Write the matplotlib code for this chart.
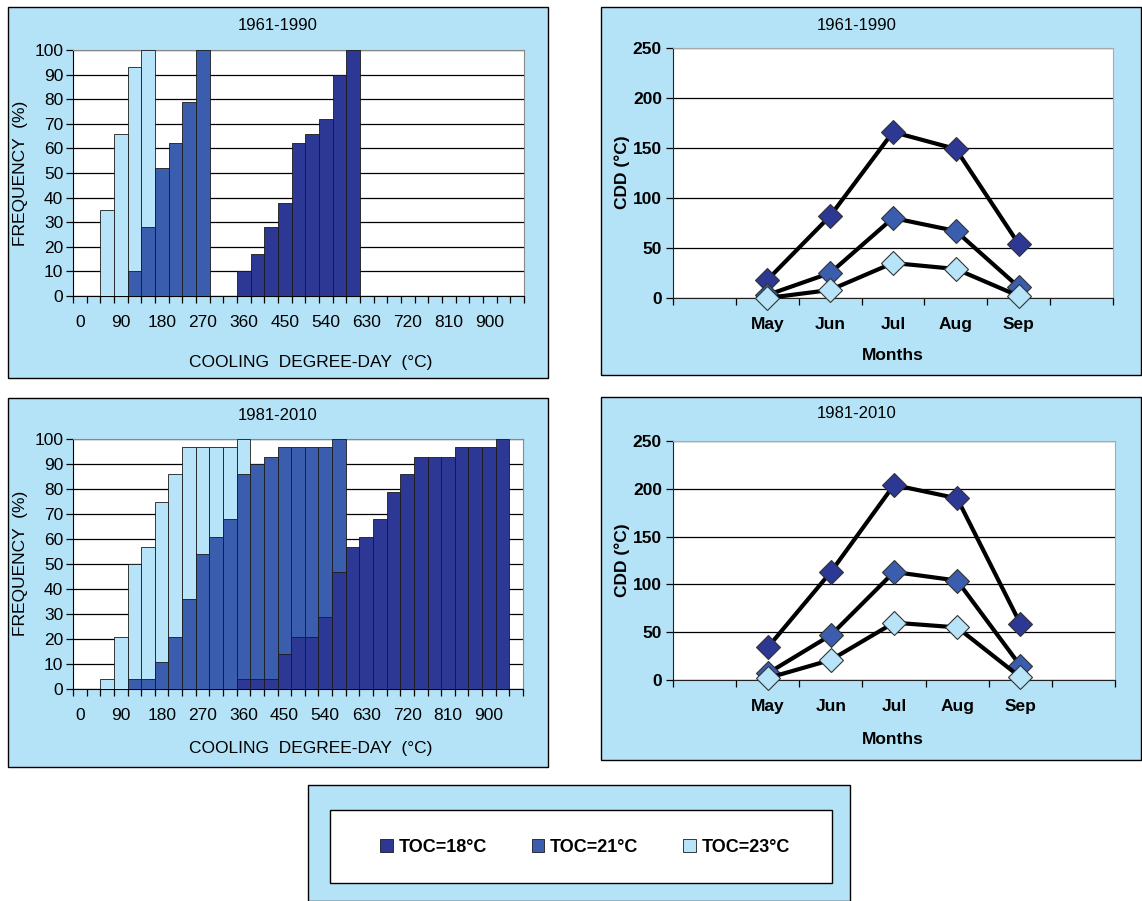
import numpy as np
import matplotlib
matplotlib.use('Agg')
import matplotlib.pyplot as plt
from matplotlib.patches import Rectangle

plt.rcParams['font.family'] = ['Liberation Sans', 'DejaVu Sans']

#histogram categories (cooling degree-day, bins of 30)
cdd_bins = [str(v) for v in range(0, 990, 30)]
cdd_labels = [b if i % 3 == 0 else '' for i, b in enumerate(cdd_bins)]

#cumulative frequency (%) per bin, None = no bar
freq_6190_18 = [None]*12 + [10, 17, 28, 38, 62, 66, 72, 90, 100] + [None]*12
freq_6190_21 = [None]*4 + [10, 28, 52, 62, 79, 100] + [None]*23
freq_6190_23 = [None]*2 + [35, 66, 93, 100] + [None]*27

freq_8110_18 = [None]*12 + [4, 4, 4, 14, 21, 21, 29, 47, 57, 61, 68, 79, 86, 93, 93, 93, 97, 97, 97, 100] + [None]
freq_8110_21 = [None]*4 + [4, 4, 11, 21, 36, 54, 61, 68, 86, 90, 93, 97, 97, 97, 97, 100] + [None]*13
freq_8110_23 = [None]*2 + [4, 21, 50, 57, 75, 86, 97, 97, 97, 97, 100] + [None]*20

#monthly CDD
months = ['', 'May', 'Jun', 'Jul', 'Aug', 'Sep', '']
cdd_6190_18 = [18, 82, 166, 149, 54]
cdd_6190_21 = [3, 25, 80, 67, 11]
cdd_6190_23 = [0, 8, 35, 29, 2]
cdd_8110_18 = [34, 113, 204, 190, 59]
cdd_8110_21 = [7, 47, 113, 104, 15]
cdd_8110_23 = [2, 21, 60, 55, 3]

series_names = ['TOC=18\u00b0C', 'TOC=21\u00b0C', 'TOC=23\u00b0C']
col_dark = '#2D3794'
col_mid = '#3A5DAD'
col_light = '#B7E4F8'
panel_bg = '#B4E3F7'

W, H = 1142, 901
fig = plt.figure(figsize=(W/100, H/100), dpi=100)


def rect(x0, y0, x1, y1):
    return [x0/W, 1 - y1/H, (x1-x0)/W, (y1-y0)/H]


def panel(x0, y0, x1, y1, fc=panel_bg):
    fig.patches.append(Rectangle((x0/W, 1 - y1/H), (x1-x0)/W, (y1-y0)/H,
                                 transform=fig.transFigure, facecolor=fc,
                                 edgecolor='black', linewidth=1, zorder=-5))


#background panels
panel(8, 7, 548, 378)
panel(8, 398, 548, 767)
panel(601, 7, 1141, 375)
panel(601, 397, 1141, 760)
panel(308, 785, 850, 901)
panel(330, 810, 832, 883, fc='white')


def histo(box, title, f18, f21, f23, title_y, xlab_y, ylab_y):
    ax = fig.add_axes(rect(*box))
    x = np.arange(len(cdd_bins))
    handles = []
    #light first so darker series stay in front
    for vals, c in [(f23, col_light), (f21, col_mid), (f18, col_dark)]:
        idx = [i for i, v in enumerate(vals) if v is not None]
        h = ax.bar(x[idx], [vals[i] for i in idx], width=1.0, color=c,
                   edgecolor='#1a1a1a', linewidth=0.6, zorder=3)
        handles.append(h)
    ax.set_xlim(-0.5, len(cdd_bins) - 0.5)
    ax.set_ylim(0, 100)
    ax.set_yticks(range(0, 101, 10))
    ax.grid(axis='y', color='black', linewidth=0.9, zorder=1)
    ax.set_axisbelow(True)
    ax.set_xticks(x)
    ax.set_xticklabels(cdd_labels)
    ax.set_xticks(np.arange(-0.5, len(cdd_bins), 1), minor=True)
    ax.tick_params(axis='x', which='major', length=0, pad=14, labelsize=12.5)
    ax.tick_params(axis='x', which='minor', length=5, width=0.9, direction='out')
    ax.tick_params(axis='y', length=5, width=0.9, pad=2, labelsize=12.5)
    for s in ['top', 'right']:
        ax.spines[s].set_color('#888888')
    for s in ['left', 'bottom']:
        ax.spines[s].set_color('black')
    fig.text(278/W, 1 - title_y/H, title, ha='center', va='center', fontsize=12)
    fig.text(311/W, 1 - xlab_y/H, 'COOLING  DEGREE-DAY  (\u00b0C)', ha='center',
             va='center', fontsize=12.5)
    fig.text(21/W, 1 - ylab_y/H, 'FREQUENCY  (%)', ha='center', va='center',
             rotation=90, fontsize=12.5)
    return handles


def lines(box, title, c18, c21, c23, title_y, xlab_y, ylab_y):
    ax = fig.add_axes(rect(*box))
    x = np.arange(1, 6)
    for vals, c in [(c18, col_dark), (c21, col_mid), (c23, col_light)]:
        ax.plot(x, vals, color='black', linewidth=3, marker='D', markersize=12,
                markerfacecolor=c, markeredgecolor='#333333', markeredgewidth=0.8,
                zorder=3, clip_on=False)
    ax.set_xlim(-0.5, 6.5)
    ax.set_ylim(0, 250)
    ax.set_yticks(range(0, 251, 50))
    ax.grid(axis='y', color='black', linewidth=0.9, zorder=1)
    ax.set_axisbelow(True)
    ax.set_xticks(range(7))
    ax.set_xticklabels(months, fontweight='bold')
    ax.set_xticks(np.arange(-0.5, 7, 1), minor=True)
    ax.tick_params(axis='x', which='major', length=0, pad=14, labelsize=12.5)
    ax.tick_params(axis='x', which='minor', length=5, width=0.9, direction='out')
    ax.tick_params(axis='y', length=5, width=0.9, pad=3, labelsize=12.5)
    for lab in ax.get_yticklabels():
        lab.set_fontweight('bold')
    for s in ['top', 'right']:
        ax.spines[s].set_color('#aaaaaa')
    for s in ['left', 'bottom']:
        ax.spines[s].set_color('#222222')
    fig.text(857/W, 1 - title_y/H, title, ha='center', va='center', fontsize=12)
    fig.text(893/W, 1 - xlab_y/H, 'Months', ha='center', va='center',
             fontsize=12.5, fontweight='bold')
    fig.text(622/W, 1 - ylab_y/H, 'CDD (\u00b0C)', ha='center', va='center',
             rotation=90, fontsize=12.5, fontweight='bold')


h = histo((73, 50, 524, 296), '1961-1990', freq_6190_18, freq_6190_21, freq_6190_23, 26, 362, 173)
histo((73, 439, 523, 689), '1981-2010', freq_8110_18, freq_8110_21, freq_8110_23, 416, 748, 563)
lines((673, 48, 1113, 298), '1961-1990', cdd_6190_18, cdd_6190_21, cdd_6190_23, 25, 355, 172)
lines((673, 441, 1115, 680), '1981-2010', cdd_8110_18, cdd_8110_21, cdd_8110_23, 414, 740, 560)

#legend in the white box
leg = fig.legend([h[2], h[1], h[0]], series_names, loc='center',
                 bbox_to_anchor=(585/W, 1 - 847/H), ncol=3, frameon=False,
                 handlelength=0.7, handleheight=0.7, handletextpad=0.3,
                 columnspacing=2.5, prop={'weight': 'bold', 'size': 13})

fig.savefig('out.png', dpi=100)
